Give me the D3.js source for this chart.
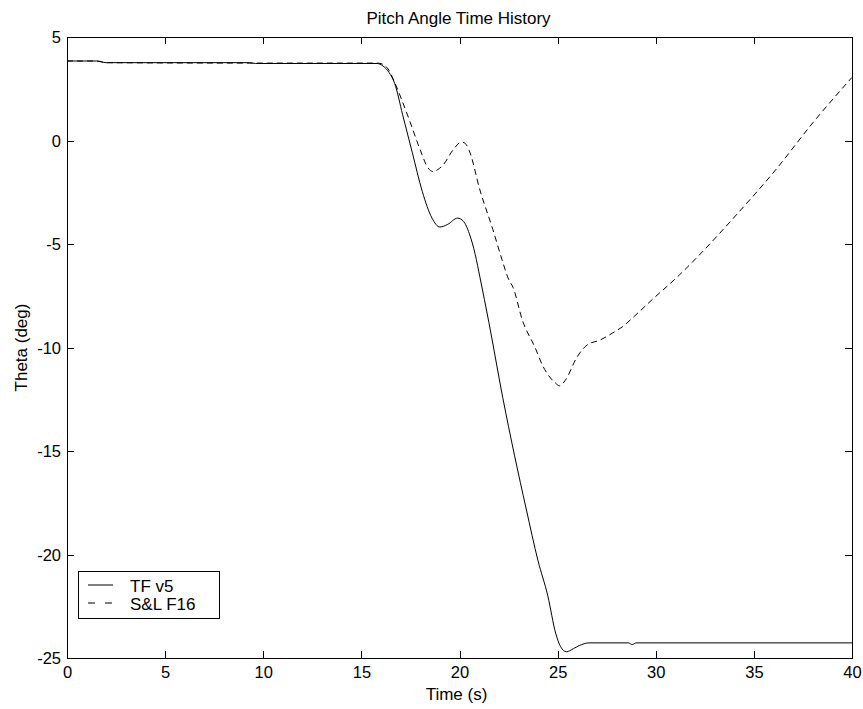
<!DOCTYPE html>
<html><head><meta charset="utf-8">
<script src="https://cdn.jsdelivr.net/npm/d3@7"></script>
<style>body{margin:0;background:#fff;} text{font-family:"Liberation Sans",Arial,sans-serif;fill:#000;}</style>
</head><body>
<svg id="c" width="863" height="709"></svg>
<script>
const tfTime = [0,1.5,2.0,9.3,9.6,15.8,16.1,16.4,16.7,17.1,17.6,18.1,18.6,19.0,19.4,19.9,20.2,20.5,20.8,21.04,21.5,22.2,22.8,23.4,24.0,24.5,24.9,25.15,25.45,25.8,26.1,26.6,28.6,28.8,29.0,40];
const tfTheta = [3.84,3.84,3.76,3.76,3.72,3.72,3.6,3.3,2.75,1.25,-0.6,-2.45,-3.75,-4.18,-4.05,-3.75,-3.9,-4.5,-5.5,-6.6,-8.8,-12.4,-15.2,-17.8,-20.3,-22.0,-23.8,-24.45,-24.7,-24.55,-24.4,-24.27,-24.27,-24.35,-24.27,-24.27];
const slTime = [0,1.5,2.0,9.5,15.8,16.1,16.4,16.7,17.0,17.5,18.0,18.4,18.65,18.9,19.15,19.67,20.1,20.3,20.5,21.04,21.7,22.17,22.5,22.73,23.2,23.85,24.25,24.87,25.1,25.4,25.99,26.5,27.16,27.8,28.3,28.9,29.86,30.57,31.2,32.15,34.1,36.1,38.0,40];
const slTheta = [3.84,3.84,3.76,3.74,3.74,3.68,3.4,2.8,2.1,0.85,-0.46,-1.33,-1.5,-1.4,-1.2,-0.46,-0.07,-0.15,-0.5,-2.39,-4.3,-5.77,-6.7,-7.1,-8.67,-10.0,-10.9,-11.7,-11.85,-11.57,-10.46,-9.88,-9.64,-9.3,-9.0,-8.5,-7.65,-7.05,-6.5,-5.6,-3.6,-1.43,0.85,3.05];
const xTicks = [0,5,10,15,20,25,30,35,40];
const yTicks = [5,0,-5,-10,-15,-20,-25];
const seriesNames = ["TF v5","S&L F16"];

const svg = d3.select("#c");
const L=67, R=852, T=37, B=658;
const x = d3.scaleLinear().domain([0,40]).range([L,R]);
const y = d3.scaleLinear().domain([-25,5]).range([B,T]);
const fmt = d => String(d);
const FONT = "Liberation Sans, Arial, sans-serif";

svg.append("rect").attr("x",L).attr("y",T).attr("width",R-L).attr("height",B-T)
  .attr("fill","none").attr("stroke","#000").attr("stroke-width",1).attr("shape-rendering","crispEdges");

const tl = 7;
const gxb = svg.append("g").attr("transform",`translate(0,${B})`)
  .call(d3.axisBottom(x).tickValues(xTicks).tickSizeInner(-tl).tickSizeOuter(0).tickPadding(0).tickFormat(fmt));
const gxt = svg.append("g").attr("transform",`translate(0,${T})`)
  .call(d3.axisTop(x).tickValues(xTicks).tickSizeInner(-tl).tickSizeOuter(0).tickFormat(""));
const gyl = svg.append("g").attr("transform",`translate(${L},0)`)
  .call(d3.axisLeft(y).tickValues(yTicks).tickSizeInner(-tl).tickSizeOuter(0).tickPadding(0).tickFormat(fmt));
const gyr = svg.append("g").attr("transform",`translate(${R},0)`)
  .call(d3.axisRight(y).tickValues(yTicks).tickSizeInner(-tl).tickSizeOuter(0).tickFormat(""));
[gxb,gxt,gyl,gyr].forEach(g=>{
  g.select(".domain").remove();
  g.selectAll("line").attr("stroke","#000").attr("shape-rendering","crispEdges");
  g.selectAll("text").attr("font-size",16.5).attr("font-family",FONT).attr("fill","#000");
});
gxb.selectAll("text").attr("y",20).attr("dy",null);
gyl.selectAll("text").attr("x",-6).attr("dy","0.35em");

const line = d3.line().x(d=>x(d[0])).y(d=>y(d[1])).curve(d3.curveMonotoneX);
const tfData = d3.zip(tfTime, tfTheta);
const slData = d3.zip(slTime, slTheta);
const plot = svg.append("g");
plot.append("path").datum(tfData).attr("d",line).attr("fill","none").attr("stroke","#000").attr("stroke-width",1);
plot.append("path").datum(slData).attr("d",line).attr("fill","none").attr("stroke","#000").attr("stroke-width",1).attr("stroke-dasharray","6,4");

svg.append("text").attr("x",(L+R)/2+(-1)).attr("y",24).attr("text-anchor","middle").attr("font-size",17).text("Pitch Angle Time History");
svg.append("text").attr("x",(L+R)/2-3).attr("y",700).attr("text-anchor","middle").attr("font-size",17).text("Time (s)");
svg.append("text").attr("transform",`translate(27,${(T+B)/2}) rotate(-90)`).attr("text-anchor","middle").attr("font-size",17).text("Theta (deg)");

const lg = svg.append("g");
lg.append("rect").attr("x",78.5).attr("y",571.5).attr("width",141).attr("height",47).attr("fill","#fff").attr("stroke","#000").attr("stroke-width",1);
const dashes = [null,"7,10"];
seriesNames.forEach((n,i)=>{
  const yy = 585 + i*18;
  lg.append("line").attr("x1",88).attr("x2",113).attr("y1",yy).attr("y2",yy).attr("stroke","#000").attr("stroke-width",1).attr("stroke-dasharray",dashes[i]);
  lg.append("text").attr("x",130).attr("y",yy+7).attr("font-size",17).text(n);
});
</script>
</body></html>
